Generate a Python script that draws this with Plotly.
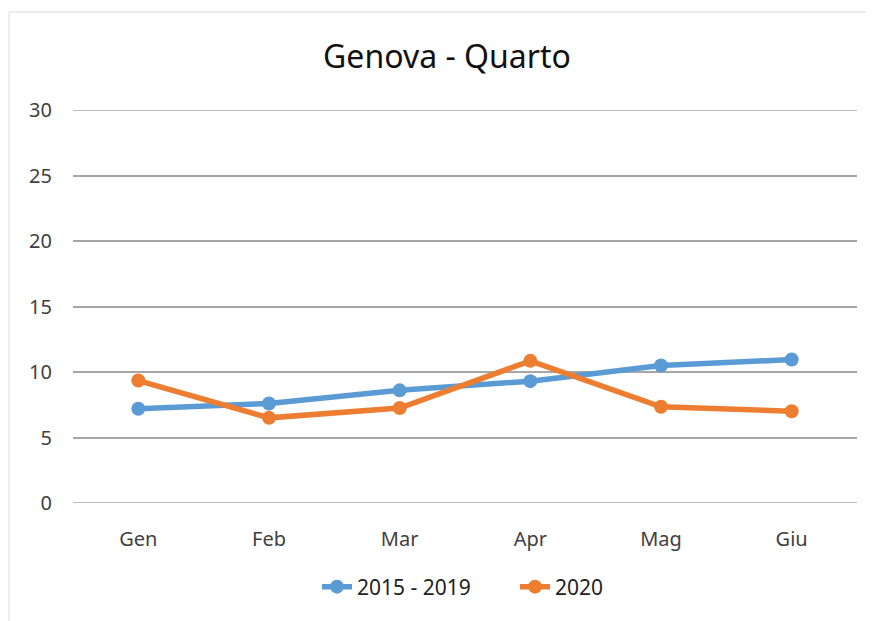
import plotly.graph_objects as go

months = ["Gen", "Feb", "Mar", "Apr", "Mag", "Giu"]
series_2015_2019 = [7.2, 7.6, 8.6, 9.3, 10.5, 10.95]
series_2020 = [9.35, 6.5, 7.25, 10.85, 7.35, 7.0]

# page has an 8px body margin, so the figure is drawn 8px smaller and shifted
OFF = 8
W, H = 874 - OFF, 621 - OFF
L, T, R, B = 73 - OFF, 110 - OFF, 17, 118
PW, PH = W - L - R, H - T - B

fig = go.Figure()
fig.add_trace(go.Scatter(x=months, y=series_2015_2019, name="2015 - 2019", mode="lines+markers",
                         line=dict(color="#5b9bd5", width=5.5), marker=dict(size=14, color="#5b9bd5")))
fig.add_trace(go.Scatter(x=months, y=series_2020, name="2020", mode="lines+markers",
                         line=dict(color="#ed7d31", width=5.5), marker=dict(size=14, color="#ed7d31")))

def px_x(px):
    return (px - OFF - L) / PW

def px_y(py):
    return (T + PH - (py - OFF)) / PH

fig.update_layout(
    width=W, height=H,
    margin=dict(l=L, r=R, t=T, b=B),
    paper_bgcolor="white", plot_bgcolor="white",
    font=dict(family="Noto Sans", color="#404040", size=20),
    title=dict(text="Genova - Quarto", x=(447 - OFF) / W, xref="container", xanchor="center",
               y=1 - (57 - OFF) / H, yref="container", yanchor="middle",
               font=dict(size=32, color="#111111")),
    showlegend=True,
    legend=dict(orientation="h", x=px_x(317), xanchor="left", y=px_y(587), yanchor="middle",
                font=dict(size=21, color="#222222"), entrywidth=153, entrywidthmode="pixels"),
    xaxis=dict(type="category", range=[-0.5, 5.5], showgrid=False, zeroline=False,
               showline=False, ticks="", ticklabelstandoff=22, tickfont=dict(size=20, color="#404040")),
    yaxis=dict(range=[0, 30], dtick=5, showgrid=True, gridcolor="#a6a6a6", gridwidth=1.5,
               zeroline=False, showline=False, ticks="", ticklabelstandoff=20,
               tickfont=dict(size=20, color="#404040")),
    shapes=[dict(type="rect", xref="paper", yref="paper",
                 x0=px_x(9), x1=px_x(868), y0=px_y(630), y1=px_y(12),
                 line=dict(color="#d9d9d9", width=1), fillcolor="rgba(0,0,0,0)", layer="below"),
            dict(type="line", xref="paper", yref="y", x0=0, x1=1, y0=0, y1=0,
                 line=dict(color="#a6a6a6", width=1.5), layer="below"),
            dict(type="line", xref="paper", yref="y", x0=0, x1=1, y0=30, y1=30,
                 line=dict(color="#a6a6a6", width=1.5), layer="below")],
)

fig.write_html("out.html")
